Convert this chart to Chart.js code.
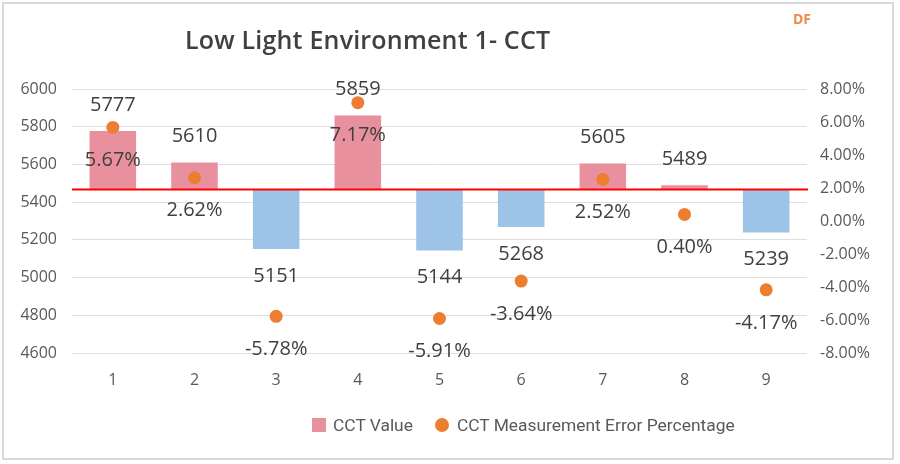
<!DOCTYPE html>
<html>
<head>
<meta charset="utf-8">
<script src="https://cdn.jsdelivr.net/npm/chart.js@4/dist/chart.umd.min.js"></script>
<style>
  html, body { margin: 0; padding: 0; background: #ffffff; }
  #wrap { position: relative; width: 900px; height: 464px; overflow: hidden; }
  #frame { position: absolute; left: 2px; top: 2px; width: 888px; height: 454px; border: 2px solid #d9d9d9; }
  #chart { position: absolute; left: 0; top: 0; }
  #title { position: absolute; left: 185px; top: 22px; font-family: "Open Sans", sans-serif; font-size: 25px; font-weight: 600; color: #404040; white-space: nowrap; letter-spacing: 0.2px; }
  #mark { position: absolute; left: 793px; top: 9px; font-family: "Open Sans", sans-serif; font-size: 14px; font-weight: 700; color: #f0894a; }
  #legend { position: absolute; left: 312px; top: 414px; font-family: Roboto, sans-serif; font-size: 17.4px; color: #595959; white-space: nowrap; }
  #legend span { display: inline-block; vertical-align: middle; }
  .box { width: 14px; height: 14px; background: #e8909e; margin-right: 7px; }
  .dot { width: 14px; height: 14px; border-radius: 50%; background: #ed7d31; margin-left: 22px; margin-right: 8px; }
</style>
</head>
<body>
<div id="wrap">
  <div id="frame"></div>
  <canvas id="chart" width="900" height="464"></canvas>
  <div id="title">Low Light Environment 1- CCT</div>
  <div id="mark">DF</div>
  <div id="legend"><span class="box"></span><span>CCT Value</span><span class="dot"></span><span>CCT Measurement Error Percentage</span></div>
</div>
<script>
// Chart data
const categories = ['1', '2', '3', '4', '5', '6', '7', '8', '9'];
const cctValues = [5777, 5610, 5151, 5859, 5144, 5268, 5605, 5489, 5239];
const errorPercent = [5.67, 2.62, -5.78, 7.17, -5.91, -3.64, 2.52, 0.40, -4.17];
const referenceCct = 5467;
const leftTicks = [4600, 4800, 5000, 5200, 5400, 5600, 5800, 6000];
const rightTicks = [-8, -6, -4, -2, 0, 2, 4, 6, 8];

const pink = '#e8909e';
const blue = '#9dc3e6';
const orange = '#ed7d31';

// Red reference line + value labels
const labelPlugin = {
    id: 'labels',
    afterDatasetsDraw(chart) {
        const ctx = chart.ctx;
        const area = chart.chartArea;
        const y = chart.scales.y;
        const refY = y.getPixelForValue(referenceCct);

        ctx.save();
        ctx.strokeStyle = '#ff0000';
        ctx.lineWidth = 2;
        ctx.beginPath();
        ctx.moveTo(area.left, refY);
        ctx.lineTo(area.right + 1, refY);
        ctx.stroke();

        ctx.font = '20px "Open Sans", sans-serif';
        ctx.fillStyle = '#404040';
        ctx.textAlign = 'center';
        ctx.textBaseline = 'middle';

        const barMeta = chart.getDatasetMeta(0);
        barMeta.data.forEach(function(bar, i) {
            const v = cctValues[i];
            const py = y.getPixelForValue(v);
            const off = v >= referenceCct ? -26 : 27;
            ctx.fillText(String(v), bar.x, py + off);
        });

        const ptMeta = chart.getDatasetMeta(1);
        ptMeta.data.forEach(function(pt, i) {
            ctx.fillText(errorPercent[i].toFixed(2) + '%', pt.x, pt.y + 33);
        });
        ctx.restore();
    }
};

new Chart(document.getElementById('chart'), {
    type: 'bar',
    data: {
        labels: categories,
        datasets: [{
            label: 'CCT Value',
            data: cctValues.map(v => [referenceCct, v]),
            backgroundColor: cctValues.map(v => v >= referenceCct ? pink : blue),
            borderWidth: 0,
            categoryPercentage: 1,
            barPercentage: 0.57,
            yAxisID: 'y',
            order: 2
        }, {
            type: 'line',
            label: 'CCT Measurement Error Percentage',
            data: errorPercent,
            showLine: false,
            pointRadius: 6.5,
            pointBackgroundColor: orange,
            pointBorderWidth: 0,
            yAxisID: 'y1',
            order: 1
        }]
    },
    options: {
        responsive: false,
        animation: false,
        layout: { padding: { top: 89, left: 0, right: 0, bottom: 0 } },
        plugins: {
            legend: { display: false },
            title: { display: false },
            tooltip: { enabled: false }
        },
        scales: {
            x: {
                grid: { display: false, drawTicks: false },
                border: { display: false },
                ticks: { padding: 18, color: '#595959', font: { family: '"Open Sans", sans-serif', size: 16 } },
                afterFit: function(s) { s.height = 111; }
            },
            y: {
                position: 'left',
                min: leftTicks[0],
                max: leftTicks[leftTicks.length - 1],
                afterBuildTicks: function(s) { s.ticks = leftTicks.map(v => ({ value: v })); },
                grid: { color: '#dedede', lineWidth: 1, drawTicks: false },
                border: { display: false },
                ticks: {
                    padding: 15,
                    color: '#595959',
                    font: { family: '"Open Sans", sans-serif', size: 16 },
                    callback: function(v) { return String(v); }
                },
                afterFit: function(s) { s.width = 72; }
            },
            y1: {
                position: 'right',
                min: rightTicks[0],
                max: rightTicks[rightTicks.length - 1],
                afterBuildTicks: function(s) { s.ticks = rightTicks.map(v => ({ value: v })); },
                grid: { display: false, drawTicks: false },
                border: { display: false },
                ticks: {
                    padding: 13,
                    color: '#595959',
                    font: { family: '"Open Sans", sans-serif', size: 16 },
                    callback: function(v) { return v.toFixed(2) + '%'; }
                },
                afterFit: function(s) { s.width = 93; }
            }
        }
    },
    plugins: [labelPlugin]
});
</script>
</body>
</html>
